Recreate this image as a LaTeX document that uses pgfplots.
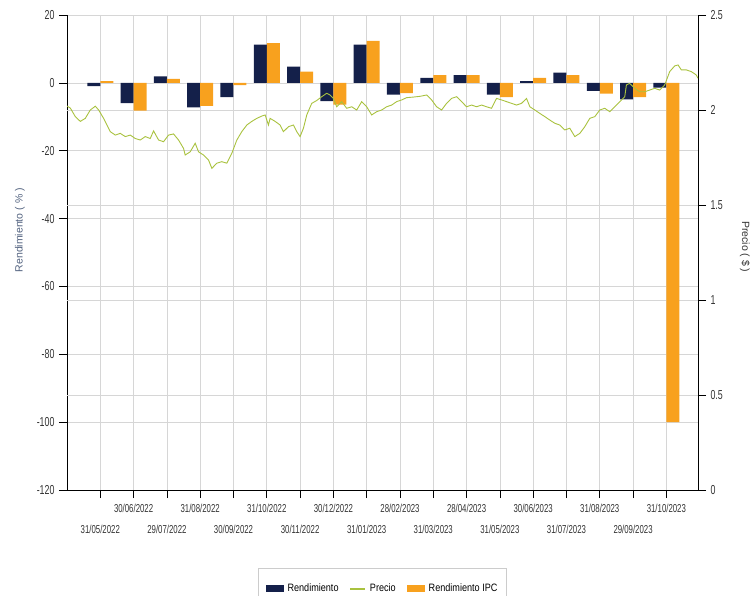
\documentclass[border=0pt]{standalone}
\usepackage{pgfplots}
\pgfplotsset{compat=1.18}
\usepackage{pgfplotstable}
\usepackage{fontspec}
\setmainfont{Liberation Sans}
\newfontfamily\cond[FakeStretch=0.68]{Liberation Sans}
\newfontfamily\legf[FakeStretch=0.85]{Liberation Sans}
\definecolor{navy}{HTML}{14204A}
\definecolor{orng}{HTML}{F8A11E}
\definecolor{lgreen}{HTML}{A9C23F}
\definecolor{gridc}{HTML}{D6D6D6}
\definecolor{tickc}{HTML}{333333}
\definecolor{lblc}{HTML}{52627F}

\pgfplotstableread{
k navy orng
0 -1.0 0.5
1 -6.0 -8.2
2 1.9 1.2
3 -7.2 -6.8
4 -4.2 -0.7
5 11.3 11.7
6 4.8 3.3
7 -5.4 -6.4
8 11.3 12.4
9 -3.5 -3.0
10 1.5 2.3
11 2.3 2.3
12 -3.5 -4.2
13 0.5 1.5
14 3.0 2.3
15 -2.4 -3.2
16 -4.9 -4.2
17 -1.4 -100
}\bars

\pgfplotstableread{
x y
-1.00 2.021
-0.90 2.010
-0.75 1.965
-0.60 1.940
-0.45 1.956
-0.30 2.000
-0.15 2.020
-0.05 2.000
0.10 1.956
0.30 1.886
0.45 1.868
0.60 1.877
0.75 1.860
0.90 1.868
1.05 1.850
1.20 1.842
1.35 1.860
1.50 1.850
1.60 1.890
1.75 1.842
1.90 1.833
2.05 1.868
2.20 1.874
2.35 1.842
2.50 1.798
2.55 1.763
2.70 1.780
2.85 1.825
2.95 1.780
3.10 1.763
3.25 1.737
3.35 1.693
3.50 1.720
3.65 1.728
3.80 1.720
3.95 1.772
4.10 1.842
4.25 1.886
4.40 1.921
4.55 1.940
4.70 1.956
4.85 1.968
4.95 1.974
5.05 1.921
5.10 1.956
5.25 1.940
5.40 1.921
5.50 1.886
5.65 1.912
5.80 1.921
5.90 1.886
6.00 1.860
6.10 1.904
6.20 1.974
6.35 2.035
6.50 2.050
6.65 2.070
6.80 2.088
6.90 2.079
7.00 2.061
7.10 2.017
7.25 2.044
7.40 2.009
7.55 2.017
7.70 2.000
7.85 2.044
8.00 2.017
8.15 1.974
8.30 1.991
8.45 2.000
8.60 2.017
8.75 2.026
8.90 2.044
9.05 2.053
9.20 2.065
9.40 2.068
9.60 2.072
9.80 2.079
9.95 2.053
10.10 2.017
10.25 2.000
10.40 2.035
10.55 2.061
10.70 2.070
10.85 2.044
11.00 2.017
11.15 2.026
11.30 2.017
11.45 2.026
11.60 2.017
11.75 2.009
11.90 2.061
12.05 2.053
12.20 2.044
12.35 2.035
12.50 2.026
12.65 2.035
12.80 2.061
12.90 2.017
13.05 2.000
13.20 1.982
13.35 1.965
13.50 1.947
13.65 1.930
13.80 1.921
13.95 1.895
14.10 1.904
14.25 1.860
14.40 1.877
14.55 1.912
14.70 1.956
14.85 1.965
15.00 2.000
15.15 2.009
15.30 1.991
15.45 2.017
15.60 2.044
15.75 2.070
15.80 2.132
15.90 2.140
16.05 2.114
16.20 2.096
16.35 2.096
16.50 2.105
16.65 2.114
16.80 2.105
16.95 2.132
17.10 2.202
17.25 2.232
17.35 2.237
17.45 2.211
17.60 2.211
17.75 2.202
17.90 2.184
17.95 2.167
}\price

\begin{document}
\begin{tikzpicture}
\useasboundingbox (-67bp,-106bp) rectangle (685bp,490bp);
\pgfplotsset{
  base/.style={
    width=631bp, height=475bp, scale only axis,
    at={(0,0)}, anchor=south west,
    xmin=-1, xmax=17.95,
    tick align=outside, major tick length=8bp,
    tick style={black, line width=0.6bp},
    /pgf/number format/assume math mode=true,
    ticklabel style={text=tickc},
  }
}
\begin{axis}[base,
  ymin=-120, ymax=20,
  ytick={-120,-100,...,20},
  axis y line*=left, axis x line*=bottom,
  axis line style={black, line width=0.6bp},
  ymajorgrids, xmajorgrids,
  grid style={gridc, line width=0.6bp},
  extra y ticks={-92,-64,-36,-8},
  extra y tick labels={},
  extra y tick style={major tick length=0pt, grid=major},
  yticklabel style={font=\fontsize{13bp}{13bp}\cond, xshift=-1bp},
  xtick={0,2,...,16},
  xticklabels={31/05/2022,29/07/2022,30/09/2022,30/11/2022,31/01/2023,31/03/2023,31/05/2023,31/07/2023,29/09/2023},
  xticklabel style={font=\fontsize{11.5bp}{11.5bp}\cond, anchor=center, yshift=-31bp},
  extra x ticks={1,3,...,17},
  extra x tick labels={30/06/2022,31/08/2022,31/10/2022,30/12/2022,28/02/2023,28/04/2023,30/06/2023,31/08/2023,31/10/2023},
  extra x tick style={grid=major, xticklabel style={yshift=21bp}},
  ylabel={Rendimiento ( \% )},
  ylabel style={at={(axis description cs:-0.0745,0.547)}, anchor=center, font=\fontsize{10.5bp}{11bp}\selectfont, text=lblc},
  legend columns=-1,
  legend style={at={(axis description cs:0.5,-0.1642)}, anchor=north,
    draw=gray!40, fill=white, font=\fontsize{10.7bp}{11bp}\legf, text=black,
    inner xsep=7bp, inner ysep=14bp,
    /tikz/every odd column/.append style={column sep=2bp},
    /tikz/every even column/.append style={column sep=9bp}},
]
\addplot[ybar, bar width=13bp, bar shift=-6.5bp, draw=none, fill=navy,
  legend image code/.code={\fill[navy] (0bp,-3.5bp) rectangle (18bp,3.5bp);}]
  table[x=k, y=navy] {\bars};
\addlegendentry{Rendimiento}
\addlegendimage{legend image code/.code={\draw[lgreen, line width=1.4bp] (1bp,0bp) -- (16bp,0bp);}}
\addlegendentry{Precio}
\addplot[ybar, bar width=13bp, bar shift=6.5bp, draw=none, fill=orng,
  legend image code/.code={\fill[orng] (0bp,-3.5bp) rectangle (18bp,3.5bp);}]
  table[x=k, y=orng] {\bars};
\addlegendentry{Rendimiento IPC}
\end{axis}
\begin{axis}[base,
  ymin=0, ymax=2.5,
  ytick={0,0.5,...,2.5},
  axis y line*=right, axis x line=none,
  axis line style={black, line width=0.6bp},
  yticklabel style={font=\fontsize{13bp}{13bp}\cond, xshift=1bp},
  ylabel={Precio ( \$ )},
  ylabel style={at={(axis description cs:1.0745,0.512)}, anchor=center, rotate=-180, font=\fontsize{10.5bp}{11bp}\selectfont, text=tickc},
]
\addplot[lgreen, line width=0.9bp, no marks] table[x=x, y=y] {\price};
\end{axis}
\end{tikzpicture}
\end{document}
